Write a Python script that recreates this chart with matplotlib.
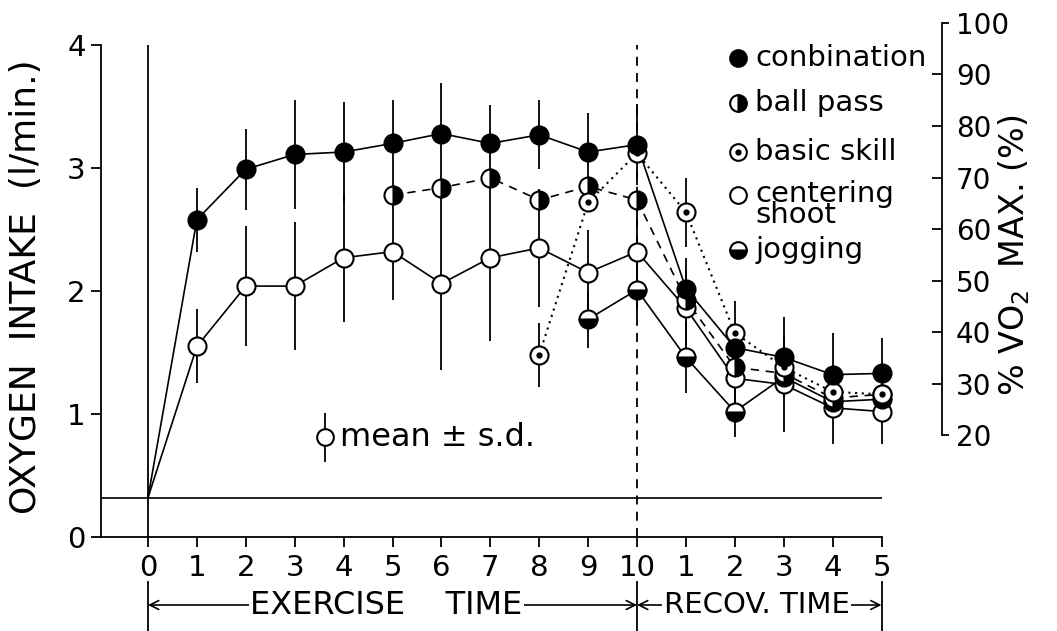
import numpy as np
import matplotlib.pyplot as plt
from matplotlib.ticker import FixedLocator, FixedFormatter

plt.rcParams['font.family'] = ['DejaVu Sans']
plt.rcParams['font.size'] = 20

# time: 0-10 min exercise, then 1-5 min recovery
t = np.arange(16)
t_labels = ['0', '1', '2', '3', '4', '5', '6', '7', '8', '9', '10',
            '1', '2', '3', '4', '5']

rest = 0.32

comb = [0.32, 2.58, 2.99, 3.11, 3.13, 3.20, 3.28, 3.20, 3.27, 3.13, 3.19,
        2.02, 1.54, 1.46, 1.32, 1.33]
comb_sd = [np.nan, 0.26, 0.33, 0.44, 0.41, 0.35, 0.41, 0.31, 0.28, 0.32, 0.33,
           0.25, 0.38, 0.33, 0.34, 0.29]

shoot = [0.32, 1.55, 2.04, 2.04, 2.27, 2.32, 2.06, 2.27, 2.35, 2.15, 2.32,
         1.86, 1.29, 1.24, 1.05, 1.02]
shoot_sd = [np.nan, 0.30, 0.49, 0.52, 0.52, 0.39, 0.70, 0.68, 0.48, 0.35, 0.35,
            0.30, 0.30, 0.39, 0.29, 0.26]

t_pass = t[5:]
ball_pass = [2.78, 2.84, 2.92, 2.74, 2.85, 2.74, 1.93, 1.38, 1.33, 1.13, 1.16]

t_skill = t[8:]
skill = [1.48, 2.72, 3.12, 2.64, 1.66, 1.38, 1.18, 1.16]
skill_sd = [0.26, np.nan, np.nan, 0.28, np.nan, np.nan, np.nan, np.nan]

t_jog = t[9:]
jog = [1.77, 2.01, 1.46, 1.02, 1.30, 1.10, 1.12]
jog_sd = [0.23, 0.22, 0.29, 0.21, np.nan, np.nan, np.nan]

pct_ticks = [30, 40, 50, 60, 70, 80, 90]
pct_ends = [20, 100]

key_x, key_y, key_sd = 3.62, 0.81, 0.2

# pixel layout of the scan
X0, DX = 148, 48.9
Y0, DY = 537, 123.0
L, R, T = 101, 942, 537 - 4.2 * DY

fig = plt.figure(figsize=(10.57, 6.31), dpi=100)
ax = fig.add_axes([L / 1057, (631 - Y0) / 631, (R - L) / 1057, (Y0 - T) / 631])
ax.set_xlim((L - X0) / DX, (R - X0) / DX)
ax.set_ylim(0, 4.2)

ms = 13
ew = 1.5
lw = 1.2

# error bars first so markers cover them
for xs, ys, sd in [(t, comb, comb_sd), (t, shoot, shoot_sd),
                   (t_skill, skill, skill_sd), (t_jog, jog, jog_sd)]:
    ax.errorbar(xs, ys, yerr=sd, fmt='none', ecolor='k', elinewidth=1.3,
                capsize=0, zorder=1)

ax.plot(t, comb, '-', color='k', lw=lw, zorder=2)
ax.plot(t, shoot, '-', color='k', lw=lw, zorder=2)
ax.plot(t_pass, ball_pass, color='k', lw=lw, dashes=(5, 4), zorder=2)
ax.plot(t_skill, skill, color='k', lw=1.5, dashes=(1, 2.2), zorder=2)
ax.plot(t_jog, jog, '-', color='k', lw=lw, zorder=2)

ax.plot(t[1:], shoot[1:], 'o', ms=ms, mfc='white', mec='k', mew=ew, zorder=3)
ax.plot(t_jog, jog, 'o', ms=ms, mfc='k', mfcalt='white', fillstyle='bottom',
        mec='k', mew=ew, zorder=4)
ax.plot(t_pass, ball_pass, 'o', ms=ms, mfc='k', mfcalt='white',
        fillstyle='right', mec='k', mew=ew, zorder=5)
ax.plot(t_skill, skill, 'o', ms=ms, mfc='white', mec='k', mew=ew, zorder=6)
ax.plot(t_skill, skill, 'o', ms=3.5, color='k', zorder=6)
ax.plot(t[1:], comb[1:], 'o', ms=ms, mfc='k', mec='k', mew=ew, zorder=7)

# reference lines
ax.hlines(rest, ax.get_xlim()[0], 15, color='k', lw=lw)
ax.vlines(0, 0, 4, color='k', lw=1.3)
ax.vlines(10, 0, 4, color='k', lw=1.3, linestyles=(0, (5, 4)))

# axes
for s in ['top', 'right']:
    ax.spines[s].set_visible(False)
ax.spines['left'].set_bounds(0, 4)
ax.spines['bottom'].set_bounds(ax.get_xlim()[0], 15)
ax.spines['left'].set_linewidth(1.3)
ax.spines['bottom'].set_linewidth(1.3)
ax.set_yticks([0, 1, 2, 3, 4])
ax.set_xticks(t)
ax.set_xticklabels(t_labels)
ax.tick_params(axis='both', length=7, width=1.3, color='k', labelsize=21)
ax.tick_params(axis='x', pad=5)
ax.tick_params(axis='y', pad=4)

# right axis in % VO2max
def to_pct(v):
    return 20 + (v - 0.829) * 80 / 3.350

ax2 = ax.twinx()
ax2.set_ylim(to_pct(0), to_pct(4.2))
for s in ['top', 'left', 'bottom']:
    ax2.spines[s].set_visible(False)
ax2.spines['right'].set_bounds(20, 100)
ax2.spines['right'].set_linewidth(1.3)
ax2.yaxis.set_major_locator(FixedLocator(pct_ticks))
ax2.yaxis.set_minor_locator(FixedLocator(pct_ends))
ax2.yaxis.set_minor_formatter(FixedFormatter([str(v) for v in pct_ends]))
ax2.tick_params(axis='y', which='major', direction='in', length=7, width=1.3,
                pad=10, labelsize=20)
ax2.tick_params(axis='y', which='minor', direction='out', length=5, width=1.3,
                pad=5, labelsize=20)

fig.text(26 / 1057, 1 - 287 / 631, 'OXYGEN  INTAKE  (l/min.)', rotation=90,
         ha='center', va='center', fontsize=26)
fig.text(1014 / 1057, 1 - 255 / 631, '% VO$_2$  MAX. (%)', rotation=90,
         ha='center', va='center', fontsize=24)

# legend drawn by hand
lx, tx = 0.757, 0.778
rows = [0.927, 0.840, 0.745, 0.662, 0.555]
kw = dict(transform=ax.transAxes, clip_on=False, ms=12, mec='k', mew=ew)
ax.plot(lx, rows[0], 'o', mfc='k', **kw)
ax.plot(lx, rows[1], 'o', mfc='k', mfcalt='white', fillstyle='right', **kw)
ax.plot(lx, rows[2], 'o', mfc='white', **kw)
ax.plot(lx, rows[2], 'o', color='k', ms=3.5, transform=ax.transAxes, clip_on=False)
ax.plot(lx, rows[3], 'o', mfc='white', **kw)
ax.plot(lx, rows[4], 'o', mfc='k', mfcalt='white', fillstyle='bottom', **kw)
lfs = 21
ax.text(tx, rows[0], 'conbination', transform=ax.transAxes, va='center', fontsize=lfs)
ax.text(tx, rows[1], 'ball pass', transform=ax.transAxes, va='center', fontsize=lfs)
ax.text(tx, rows[2], 'basic skill', transform=ax.transAxes, va='center', fontsize=lfs)
ax.text(tx, rows[3] - 0.018, 'centering\nshoot', transform=ax.transAxes,
        va='center', linespacing=0.68, fontsize=lfs)
ax.text(tx, rows[4], 'jogging', transform=ax.transAxes, va='center', fontsize=lfs)

# mean +- s.d. key
ax.errorbar([key_x], [key_y], yerr=[key_sd], fmt='o', ms=12, mfc='white',
            mec='k', mew=ew, ecolor='k', elinewidth=1.3, capsize=0)
ax.text(key_x + 0.3, key_y, 'mean \u00b1 s.d.', va='center', fontsize=23)

# time annotation under the axis
tr = ax.get_xaxis_transform()
ya = (Y0 - 605) / (Y0 - T)
yb0, yb1 = (Y0 - 582) / (Y0 - T), (Y0 - 640) / (Y0 - T)
for xv in [0, 10, 15]:
    ax.plot([xv, xv], [yb0, yb1], color='k', lw=1.3, transform=tr, clip_on=False)
arrow = dict(arrowstyle='<->', lw=1.2, color='k', shrinkA=0, shrinkB=0,
             mutation_scale=16)
ax.annotate('', xy=(0, ya), xytext=(10, ya), xycoords=tr, arrowprops=arrow,
            annotation_clip=False)
ax.annotate('', xy=(10, ya), xytext=(15, ya), xycoords=tr, arrowprops=arrow,
            annotation_clip=False)
box = dict(fc='white', ec='none', pad=1)
ax.text(4.87, ya, 'EXERCISE    TIME', transform=tr, ha='center', va='center',
        bbox=box, fontsize=23)
ax.text(12.45, ya, 'RECOV. TIME', transform=tr, ha='center', va='center',
        bbox=box, fontsize=21)

fig.savefig('out.png', dpi=100)
